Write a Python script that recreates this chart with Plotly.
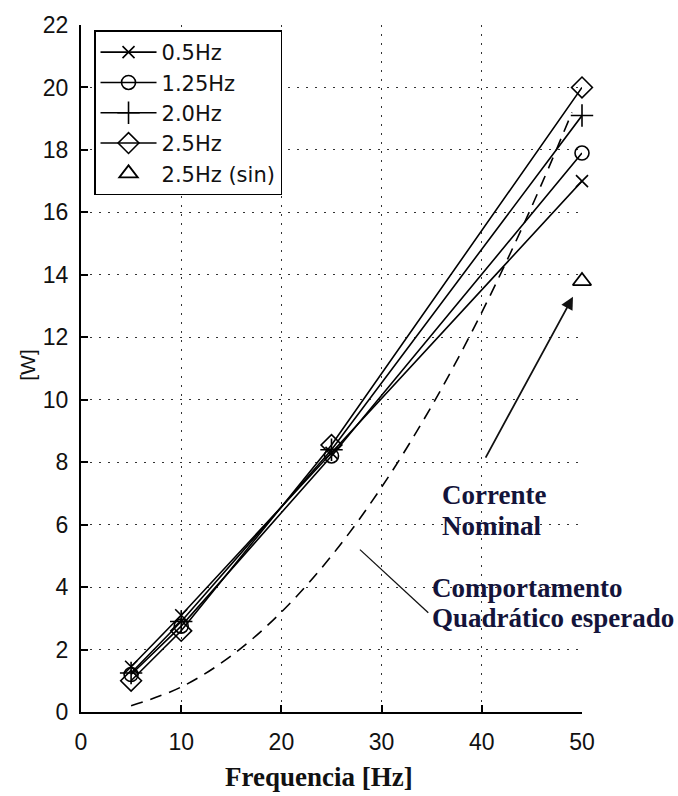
import plotly.graph_objects as go

freq = [5, 10, 25, 50]
p_05 = [1.45, 3.1, 8.3, 17.0]
p_125 = [1.2, 2.75, 8.2, 17.9]
p_20 = [1.25, 2.9, 8.4, 19.1]
p_25 = [1.0, 2.6, 8.55, 20.0]
sin_freq = [50]
p_25_sin = [13.8]
quad_freq = [5, 10, 15, 20, 25, 30, 35, 40, 45, 49]
quad_w = [0.2, 0.8, 1.8, 3.2, 5.0, 7.2, 9.8, 12.8, 16.2, 19.2]
x_ticks = [0, 10, 20, 30, 40, 50]
y_ticks = [0, 2, 4, 6, 8, 10, 12, 14, 16, 18, 20, 22]

names = ["0.5Hz", "1.25Hz", "2.0Hz", "2.5Hz", "2.5Hz (sin)"]

fig = go.Figure()
series = [
    (p_05, "x-thin", 12),
    (p_125, "circle-open", 14),
    (p_20, "cross-thin", 16),
    (p_25, "diamond-open", 16),
]
for (vals, sym, sz), nm in zip(series, names[:4]):
    fig.add_trace(go.Scatter(
        x=freq, y=vals, name=nm, mode="lines+markers", cliponaxis=False,
        line=dict(color="black", width=1.6),
        marker=dict(symbol=sym, size=sz, color="black",
                    line=dict(color="black", width=1.6)),
    ))
fig.add_trace(go.Scatter(
    x=sin_freq, y=p_25_sin, name=names[4], mode="markers", cliponaxis=False,
    marker=dict(symbol="triangle-up-open", size=16, color="black",
                line=dict(color="black", width=1.8)),
))
fig.add_trace(go.Scatter(
    x=quad_freq, y=quad_w, mode="lines", showlegend=False,
    line=dict(color="black", width=1.6, dash="12px,8px", shape="spline"),
))

serif = "Liberation Serif, Times New Roman, serif"
navy = "#14143a"

ann = []
for txt, xx, yy in [("Corrente", 35.83, 6.96), ("Nominal", 35.83, 5.95),
                    ("Comportamento", 34.83, 3.97), ("Quadrático esperado", 34.83, 3.02)]:
    ann.append(dict(x=xx, y=yy, xref="x", yref="y", text=txt, showarrow=False,
                    xanchor="left", yanchor="middle",
                    font=dict(family=serif, size=27, color=navy, weight="bold")))
ann.append(dict(x=49.1, y=13.3, ax=40.3, ay=8.1, xref="x", yref="y",
                axref="x", ayref="y", text="", showarrow=True,
                arrowhead=2, arrowsize=1.4, arrowwidth=1.8, arrowcolor="#111"))
ann.append(dict(x=-0.107, y=0.506, xref="paper", yref="paper", text="[W]",
                showarrow=False, textangle=-90, xanchor="center", yanchor="middle",
                font=dict(family="Liberation Sans, Arial", size=21, color="#111")))
ann.append(dict(x=0.475, y=-0.095, xref="paper", yref="paper", text="Frequencia [Hz]",
                showarrow=False, xanchor="center", yanchor="middle",
                font=dict(family=serif, size=27, color="#111", weight="bold")))

fig.update_layout(
    width=678, height=796,
    margin=dict(l=81, r=96, t=20, b=84),
    paper_bgcolor="white", plot_bgcolor="white",
    showlegend=True,
    legend=dict(x=0.026, y=0.992, xanchor="left", yanchor="top",
                bgcolor="white", bordercolor="black", borderwidth=1.5,
                font=dict(family="DejaVu Sans", size=21, color="#111"),
                tracegroupgap=0, itemwidth=56),
    annotations=ann,
    shapes=[dict(type="line", xref="x", yref="y", x0=27.84, y0=5.2, x1=34.66, y1=3.18,
                 line=dict(color="#111", width=1.3))],
)
grid = dict(showgrid=True, gridcolor="#333", griddash="2px,7px", gridwidth=1,
            showline=True, linecolor="black", linewidth=2,
            ticks="inside", ticklen=7, tickwidth=1.5, tickcolor="black",
            zeroline=False,
            tickfont=dict(family="Liberation Sans, Arial", size=23, color="#111"))
fig.update_xaxes(range=[0, 50], tickvals=x_ticks, ticklabelstandoff=8, **grid)
fig.update_yaxes(range=[0, 22], tickvals=y_ticks, ticklabelstandoff=6, **grid)

fig.write_html("out.html")
